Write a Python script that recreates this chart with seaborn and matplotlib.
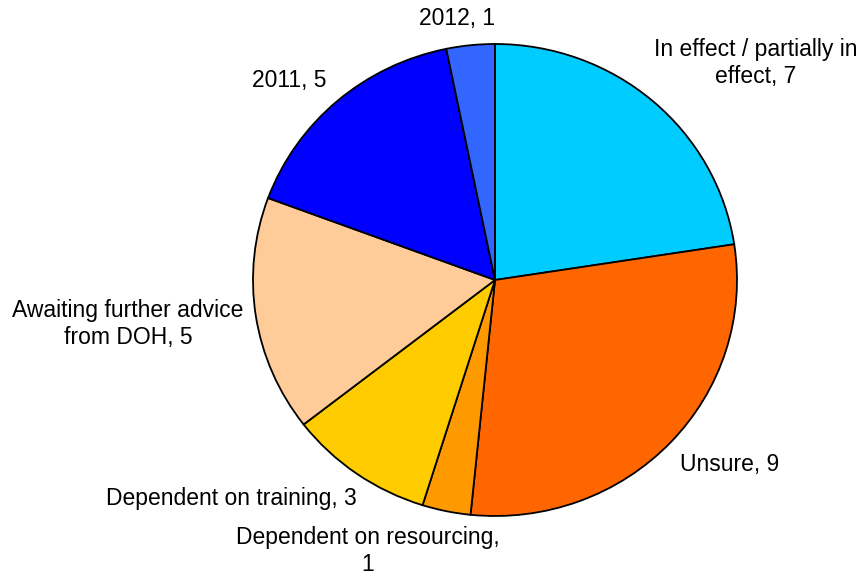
import matplotlib
matplotlib.use("Agg")
import matplotlib.pyplot as plt
import seaborn as sns

sns.set_theme(style="white")
plt.rcParams["font.family"] = ["Liberation Sans", "DejaVu Sans"]

# Status of implementation, clockwise from 12 o'clock
categories = [
    "In effect / partially in\neffect",
    "Unsure",
    "Dependent on resourcing,\n",
    "Dependent on training",
    "Awaiting further advice\nfrom DOH",
    "2011",
    "2012",
]
counts = [7, 9, 1, 3, 5, 5, 1]
colors = ["#00CCFF", "#FF6600", "#FF9900", "#FFCC00", "#FFCC99", "#0000FF", "#3366FF"]

# label anchor positions (pixels from top-left of the figure)
label_px = [
    (756, 63),
    (730, 464),
    (368, 551),
    (231, 499),
    (128, 324),
    (289, 80),
    (457, 18),
]

W, H = 865, 575
fig = plt.figure(figsize=(W / 100, H / 100), dpi=100)

# pie bounding box in pixels (slightly wider than tall)
cx, cy, rx, ry = 495, 280, 242, 236
pad = 6
ax = fig.add_axes([(cx - rx - pad) / W, (H - cy - ry - pad) / H,
                   2 * (rx + pad) / W, 2 * (ry + pad) / H])
ax.pie(
    counts,
    colors=colors,
    startangle=90,
    counterclock=False,
    radius=1.0,
    wedgeprops=dict(edgecolor="black", linewidth=1.3),
)
ax.set_aspect("auto")
ax.set_xlim(-(rx + pad) / rx, (rx + pad) / rx)
ax.set_ylim(-(ry + pad) / ry, (ry + pad) / ry)
ax.axis("off")

for cat, n, (px, py) in zip(categories, counts, label_px):
    if cat.endswith("\n"):
        text = f"{cat}{n}"
    else:
        text = f"{cat}, {n}"
    fig.text(px / W, 1 - py / H, text, ha="center", va="center",
             fontsize=16.5, color="black", multialignment="center",
             linespacing=1.25)

fig.savefig("out.png", dpi=100, facecolor="white")
